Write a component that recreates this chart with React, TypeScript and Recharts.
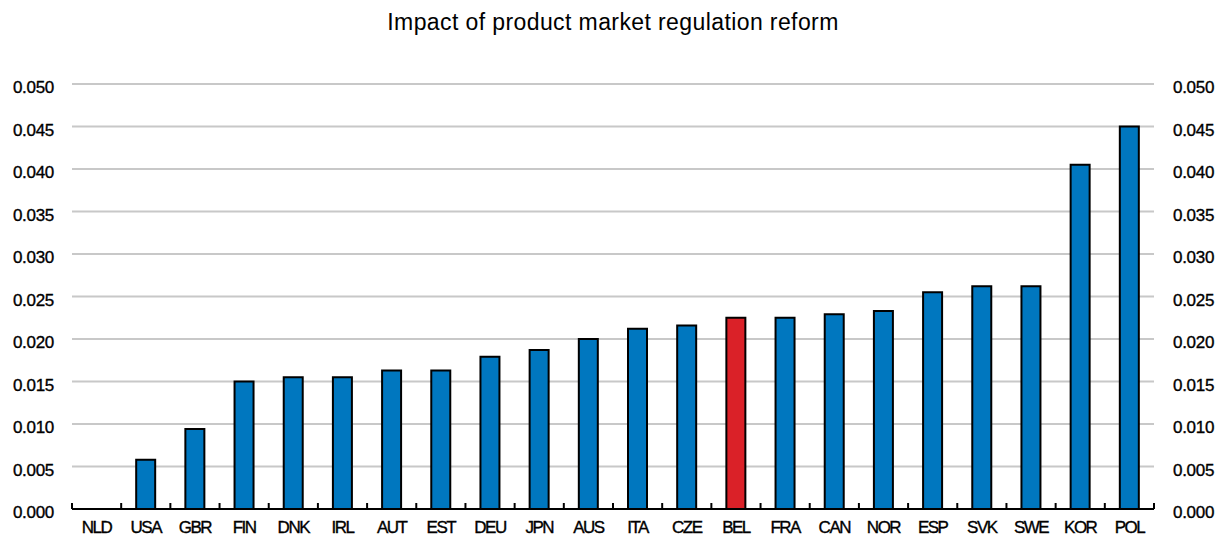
import React from "react";
import { BarChart, Bar, XAxis, YAxis, CartesianGrid, Cell } from "recharts";

const countries = [
  "NLD", "USA", "GBR", "FIN", "DNK", "IRL", "AUT", "EST", "DEU", "JPN", "AUS",
  "ITA", "CZE", "BEL", "FRA", "CAN", "NOR", "ESP", "SVK", "SWE", "KOR", "POL",
];
const impact = [
  0, 0.0058, 0.0094, 0.0150, 0.0155, 0.0155, 0.0163, 0.0163, 0.0179, 0.0187, 0.0200,
  0.0212, 0.0216, 0.0225, 0.0225, 0.0229, 0.0233, 0.0255, 0.0262, 0.0262, 0.0405, 0.0450,
];
const yTicks = [0, 0.005, 0.01, 0.015, 0.02, 0.025, 0.03, 0.035, 0.04, 0.045, 0.05];
const highlight = "BEL";

const W = 1221;
const H = 536;
const LEFT = 72;
const RIGHT_W = 67;
const TOP = 84;
const XAXIS_H = 27;
const AXIS_Y = H - XAXIS_H;
const BAND = (W - LEFT - RIGHT_W) / countries.length;
const FONT = "'Liberation Sans', Arial, sans-serif";

const data = countries.map((c, i) => ({ country: c, value: impact[i] }));

const XTick = (props: any) => {
  const { x, payload, index } = props;
  const last = index === countries.length - 1;
  return (
    <g>
      <line x1={x - BAND / 2} x2={x - BAND / 2} y1={AXIS_Y} y2={AXIS_Y - 6} stroke="#000" strokeWidth={2} />
      {last && (
        <line x1={x + BAND / 2} x2={x + BAND / 2} y1={AXIS_Y} y2={AXIS_Y - 6} stroke="#000" strokeWidth={2} />
      )}
      <text
        x={x}
        y={AXIS_Y + 24}
        textAnchor="middle"
        fontSize={17}
        letterSpacing={-1.5}
        fill="#000"
        stroke="#000"
        strokeWidth={0.35}
        fontFamily={FONT}
      >
        {payload.value}
      </text>
    </g>
  );
};

// same labels on both sides of the plot
const YTick = (props: any) => {
  const { y, payload } = props;
  const label = payload.value.toFixed(3);
  const common = {
    y: y + 9,
    fontSize: 17,
    letterSpacing: -0.3,
    fill: "#000",
    stroke: "#000",
    strokeWidth: 0.35,
    fontFamily: FONT,
  };
  return (
    <g>
      <text x={54} textAnchor="end" {...common}>
        {label}
      </text>
      <text x={1173} textAnchor="start" {...common}>
        {label}
      </text>
    </g>
  );
};

export default function App() {
  return (
    <div style={{ position: "absolute", left: 0, top: 0, width: W, height: H, background: "#fff" }}>
      <div
        style={{
          position: "absolute",
          left: LEFT,
          width: W - LEFT - RIGHT_W,
          top: 9,
          textAlign: "center",
          fontFamily: FONT,
          fontSize: 23,
          letterSpacing: 0.4,
          color: "#000",
          whiteSpace: "nowrap",
        }}
      >
        Impact of product market regulation reform
      </div>
      <BarChart
        width={W}
        height={H}
        data={data}
        margin={{ top: TOP, right: RIGHT_W, bottom: 0, left: 0 }}
        barSize={19}
      >
        <CartesianGrid yAxisId="left" vertical={false} stroke="#C8C8C8" strokeWidth={2} />
        <XAxis
          dataKey="country"
          height={XAXIS_H}
          interval={0}
          tickLine={false}
          axisLine={{ stroke: "#000", strokeWidth: 2 }}
          tick={<XTick />}
        />
        <YAxis
          yAxisId="left"
          width={LEFT}
          domain={[0, 0.05]}
          ticks={yTicks}
          axisLine={false}
          tickLine={false}
          tick={<YTick />}
        />
        <Bar dataKey="value" yAxisId="left" stroke="#000" strokeWidth={2} isAnimationActive={false}>
          {data.map((d) => (
            <Cell key={d.country} fill={d.country === highlight ? "#DA2128" : "#0077BF"} />
          ))}
        </Bar>
      </BarChart>
    </div>
  );
}
